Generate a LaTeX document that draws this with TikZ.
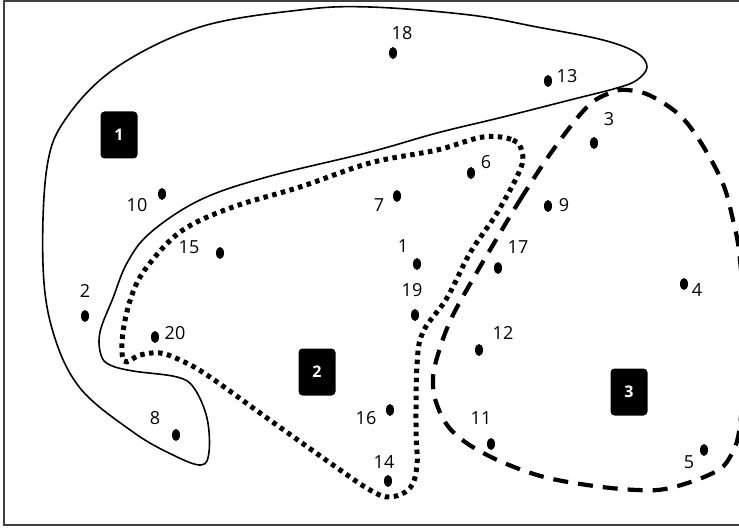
\documentclass[tikz,border=0pt]{standalone}
\usepackage{fontspec}
\setmainfont{Open Sans}
\usetikzlibrary{shapes.geometric}
\tikzset{
  pt/.style={ellipse, fill=black, inner sep=0pt, minimum width=8pt, minimum height=12pt},
  lbl/.style={inner sep=0pt, font=\fontsize{18}{20}\selectfont, text=black},
  grp/.style={rounded corners=4pt, fill=black, text=white, inner sep=0pt,
    minimum width=37pt, minimum height=47pt, font=\fontsize{16}{18}\selectfont\bfseries},
  hullA/.style={line width=1.6pt},
  hullB/.style={line width=5pt, dash pattern=on 4.5pt off 4.5pt},
  hullC/.style={line width=4.2pt, dash pattern=on 15pt off 10pt},
  frame/.style={line width=1.8pt, draw=black!75}
}
\begin{document}
\begin{tikzpicture}[x=1pt, y=-1pt]
\useasboundingbox (0,0) rectangle (739,529);
\clip (0,0) rectangle (739,529);
\fill[white] (0,0) rectangle (739,529);

% outer frame
\draw[frame] (4,1) rectangle (760,525);

% cluster 1 (solid)
\draw[hullA] plot[smooth cycle, tension=0.6] coordinates {
  (43,265) (47,167) (67,117) (117,67) (200,27) (300,10) (370,7) (470,15)
  (537,27) (603,40) (637,53) (647,67) (637,80) (617,88) (570,100) (503,117)
  (437,133) (370,152) (267,177) (200,200) (150,233) (127,263) (113,298)
  (100,332) (101,355) (110,365) (133,371) (177,377) (194,388) (207,418)
  (209,452) (201,465) (173,455) (133,432) (80,388) (53,332)};

% cluster 2 (dotted)
\draw[hullB] plot[smooth cycle, tension=0.6] coordinates {
  (483,137) (513,140) (522,152) (520,170) (497,213) (470,253) (447,298)
  (423,332) (417,365) (416,430) (417,465) (410,488) (390,497) (370,490)
  (333,465) (267,418) (207,375) (180,360) (160,353) (140,355) (124,361)
  (123,332) (133,292) (150,263) (183,230) (233,207) (300,187) (370,163)
  (437,150)};

% cluster 3 (dashed)
\draw[hullC] plot[smooth cycle, tension=0.6] coordinates {
  (490,250) (520,200) (553,150) (587,107) (610,93) (627,90) (653,97)
  (687,123) (720,177) (733,220) (740,260) (745,340) (740,425) (730,457)
  (713,473) (670,488) (637,490) (587,485) (537,475) (487,455) (453,432)
  (437,405) (433,378) (440,348) (453,315) (477,272)};

% group markers
\node[grp] (g1) at (119,135) {1};
\node[grp] (g2) at (317,372) {2};
\node[grp] (g3) at (629,392) {3};

% points
\node[pt] (p1)  at (417,264) {};
\node[pt] (p2)  at (85,316) {};
\node[pt] (p3)  at (594,143) {};
\node[pt] (p4)  at (684,284) {};
\node[pt] (p5)  at (704,450) {};
\node[pt] (p6)  at (471,173) {};
\node[pt] (p7)  at (397,196) {};
\node[pt] (p8)  at (176,435) {};
\node[pt] (p9)  at (548,206) {};
\node[pt] (p10) at (162,194) {};
\node[pt] (p11) at (491,444) {};
\node[pt] (p12) at (479,350) {};
\node[pt] (p13) at (548,81) {};
\node[pt] (p14) at (388,481) {};
\node[pt] (p15) at (220,253) {};
\node[pt] (p16) at (390,410) {};
\node[pt] (p17) at (498,268) {};
\node[pt] (p18) at (393,53) {};
\node[pt] (p19) at (415,315) {};
\node[pt] (p20) at (155,337) {};

% point labels
\node[lbl] (l1)  at (403,246) {1};
\node[lbl] (l2)  at (85,291) {2};
\node[lbl] (l3)  at (609,119) {3};
\node[lbl] (l4)  at (697,290) {4};
\node[lbl] (l5)  at (689,462) {5};
\node[lbl] (l6)  at (486,162) {6};
\node[lbl] (l7)  at (379,205) {7};
\node[lbl] (l8)  at (155,418) {8};
\node[lbl] (l9)  at (564,205) {9};
\node[lbl] (l10) at (137,205) {10};
\node[lbl] (l11) at (481,418) {11};
\node[lbl] (l12) at (503,333) {12};
\node[lbl] (l13) at (567,76) {13};
\node[lbl] (l14) at (384,462) {14};
\node[lbl] (l15) at (189,247) {15};
\node[lbl] (l16) at (366,418) {16};
\node[lbl] (l17) at (518,247) {17};
\node[lbl] (l18) at (402,33) {18};
\node[lbl] (l19) at (412,290) {19};
\node[lbl] (l20) at (175,333) {20};
\end{tikzpicture}
\end{document}
